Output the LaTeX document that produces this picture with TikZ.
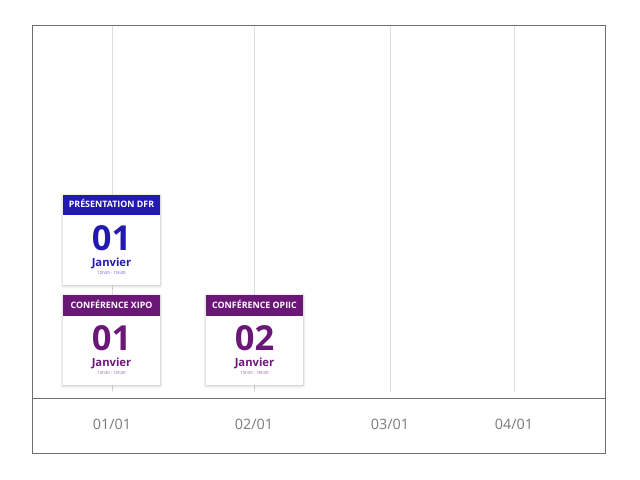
\documentclass[tikz,border=0pt]{standalone}
\usepackage{fontspec}
\setmainfont{Open Sans}
\usetikzlibrary{shadows.blur}

\definecolor{dfrblue}{HTML}{2219B2}
\definecolor{confpurple}{HTML}{6B1778}
\definecolor{gridgrey}{HTML}{DDDDDD}
\definecolor{framegrey}{HTML}{6E6E6E}
\definecolor{labelgrey}{HTML}{7A7A7A}

\tikzset{
  card/.style={fill=white, draw=none, blur shadow={shadow xshift=0pt, shadow yshift=-0.6pt, shadow blur steps=6, shadow blur radius=2pt, shadow opacity=25}},
  cardtitle/.style={text=white, font=\fontsize{6.3}{7}\selectfont\bfseries, anchor=base, inner sep=0pt},
  daynum/.style={font=\fontsize{24.5}{26}\selectfont\bfseries, anchor=base, inner sep=0pt, text depth=0pt},
  month/.style={font=\fontsize{8}{9}\selectfont\bfseries, anchor=base, inner sep=0pt, text height=5.4pt},
  hours/.style={font=\fontsize{3}{3.5}\selectfont, anchor=base, inner sep=0pt},
  datelabel/.style={text=labelgrey, font=\fontsize{10.2}{12}\selectfont, inner sep=0pt}
}

\begin{document}
\begin{tikzpicture}[x=0.025cm, y=-0.025cm]
\useasboundingbox (0,0) rectangle (640,480);
% grid
\foreach \gx in {112, 254, 390, 514}
  \draw[gridgrey, line width=0.6pt] (\gx, 25) -- (\gx, 392);
% frame and axis
\draw[framegrey, line width=0.7pt] (32, 25) rectangle (605, 453);
\draw[framegrey, line width=0.7pt] (32, 398) -- (605, 398);
\node[datelabel] (d1) at (112, 424){01/01};
\node[datelabel] (d2) at (254, 424){02/01};
\node[datelabel] (d3) at (390, 424){03/01};
\node[datelabel] (d4) at (514, 424){04/01};

% card 1
\fill[card] (63, 195) rectangle (160, 285);
\fill[dfrblue] (63, 195) rectangle (160, 215);
\node[cardtitle] (t1) at (111.5, 207.8){PRÉSENTATION DFR};
\node[daynum, text=dfrblue] (n1) at (111.5, 250){01};
\node[month, text=dfrblue] (m1) at (111.5, 266){Janvier};
\node[hours, text=dfrblue!70] (h1) at (111.5, 274){12h30 - 15h30};

% card 2
\fill[card] (63, 295) rectangle (160, 385);
\fill[confpurple] (63, 295) rectangle (160, 316);
\node[cardtitle] (t2) at (111.5, 308.3){CONFÉRENCE XIPO};
\node[daynum, text=confpurple] (n2) at (111.5, 350){01};
\node[month, text=confpurple] (m2) at (111.5, 366){Janvier};
\node[hours, text=confpurple!70] (h2) at (111.5, 374){14h30 - 15h30};

% card 3
\fill[card] (206, 295) rectangle (303, 385);
\fill[confpurple] (206, 295) rectangle (303, 316);
\node[cardtitle] (t3) at (254.5, 308.3){CONFÉRENCE OPIIC};
\node[daynum, text=confpurple] (n3) at (254.5, 350){02};
\node[month, text=confpurple] (m3) at (254.5, 366){Janvier};
\node[hours, text=confpurple!70] (h3) at (254.5, 374){15h30 - 18h30};
\end{tikzpicture}
\end{document}
